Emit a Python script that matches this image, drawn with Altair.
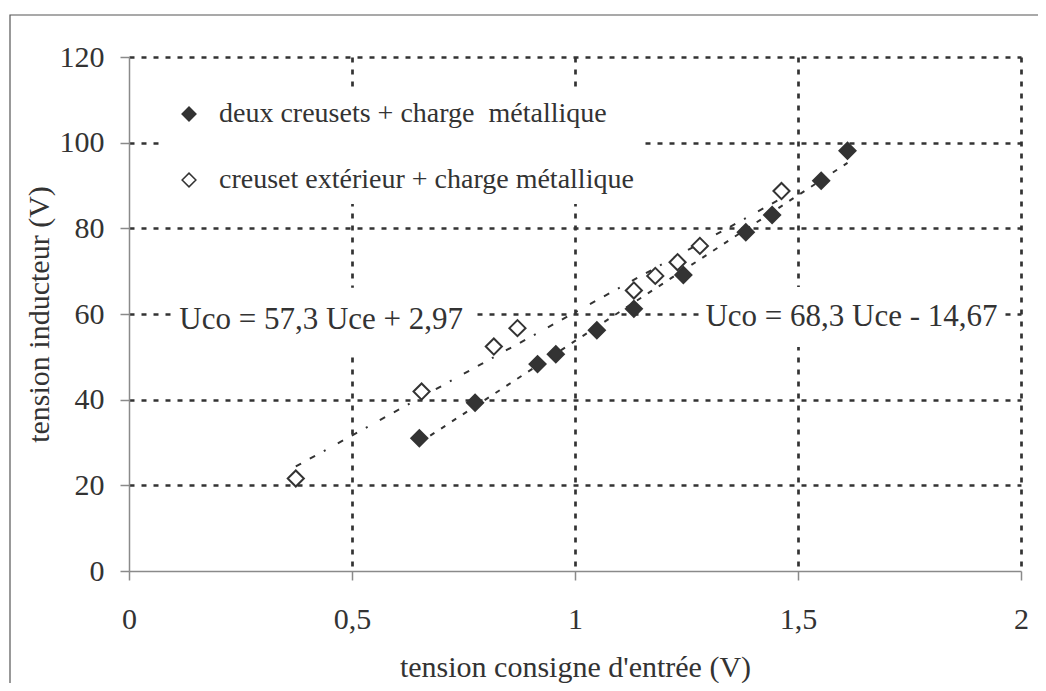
import altair as alt
import pandas as pd

SERIES = ["deux creusets + charge\u00a0 métallique", "creuset extérieur + charge métallique"]

# series 1: filled diamonds (deux creusets + charge métallique)
x_filled = [0.651, 0.776, 0.916, 0.957, 1.049, 1.132, 1.243, 1.383, 1.442, 1.552, 1.611]
y_filled = [31.0, 39.3, 48.3, 50.6, 56.2, 61.2, 69.1, 79.1, 83.1, 91.1, 98.1]

# series 2: open diamonds (creuset extérieur + charge métallique)
x_open = [0.374, 0.656, 0.818, 0.871, 1.132, 1.180, 1.230, 1.280, 1.463]
y_open = [21.6, 41.9, 52.4, 56.7, 65.5, 68.9, 72.1, 75.9, 88.7]

# trendline equation labels
eq_text = ["Uco = 57,3 Uce + 2,97", "Uco = 68,3 Uce - 14,67"]
eq_x = [0.431, 1.620]
eq_y = [58.6, 59.3]
box_x = [0.096, 1.280]
box_x2 = [0.774, 1.960]
box_y = [66.1, 66.3]
box_y2 = [51.1, 52.3]

x_ticks = [0, 0.5, 1, 1.5, 2]
y_ticks = [0, 20, 40, 60, 80, 100, 120]

df = pd.DataFrame({
    "x": x_filled + x_open,
    "y": y_filled + y_open,
    "series": [SERIES[0]] * len(x_filled) + [SERIES[1]] * len(x_open),
})
eq_df = pd.DataFrame({"text": eq_text, "x": eq_x, "y": eq_y,
                      "bx": box_x, "bx2": box_x2, "by": box_y, "by2": box_y2})

FONT = "Liberation Serif"
INK = "#333333"

xscale = alt.Scale(domain=[0, 2], nice=False, zero=False)
yscale = alt.Scale(domain=[0, 120], nice=False)
no_zero_grid = {"condition": {"test": "datum.value === 0", "value": 0}, "value": 1}

x_axis = alt.Axis(
    values=x_ticks, title="tension consigne d'entrée (V)",
    labelExpr="replace(format(datum.value, '~g'), '.', ',')",
    labelPadding=24, titlePadding=18, labelFlush=False, gridOpacity=no_zero_grid)
y_axis = alt.Axis(
    values=y_ticks, title="tension inducteur (V)", format="d",
    labelPadding=16, titlePadding=5, labelFlush=False, gridOpacity=no_zero_grid)


def X(field):
    return alt.X(field, scale=xscale, axis=x_axis)


def Y(field):
    return alt.Y(field, scale=yscale, axis=y_axis)


frame = alt.Chart(pd.DataFrame({"k": [0]})).mark_rect(
    fillOpacity=0, stroke="#555555", strokeWidth=1.2
).encode(x=alt.value(-119), x2=alt.value(960), y=alt.value(-42), y2=alt.value(720))

boxes = alt.Chart(eq_df).mark_rect(color="white").encode(
    x=X("bx:Q"), x2="bx2:Q", y=Y("by:Q"), y2="by2:Q")

reg_filled = alt.Chart(df).transform_filter(
    alt.datum.series == SERIES[0]
).transform_regression("x", "y").mark_line(
    color=INK, strokeWidth=2, strokeDash=[5, 8]
).encode(x=X("x:Q"), y=Y("y:Q"))

reg_open = alt.Chart(df).transform_filter(
    alt.datum.series == SERIES[1]
).transform_regression("x", "y").mark_line(
    color=INK, strokeWidth=2, strokeDash=[6, 10, 6, 10, 2, 14]
).encode(x=X("x:Q"), y=Y("y:Q"))

points = alt.Chart(df).mark_point(
    shape="diamond", filled=True, size=260, strokeWidth=2, opacity=1
).encode(
    x=X("x:Q"), y=Y("y:Q"),
    fill=alt.Fill("series:N", scale=alt.Scale(domain=SERIES, range=[INK, "#ffffff"]),
                  legend=alt.Legend(title=None)),
    stroke=alt.Stroke("series:N", scale=alt.Scale(domain=SERIES, range=[INK, INK]),
                      legend=alt.Legend(title=None)),
)

labels = alt.Chart(eq_df).mark_text(
    font=FONT, fontSize=31, color=INK, align="center", baseline="middle"
).encode(x=X("x:Q"), y=Y("y:Q"), text="text:N")

chart = alt.layer(frame, boxes, reg_filled, reg_open, points, labels).properties(
    width=892, height=514,
    autosize=alt.AutoSizeParams(type="none"),
    padding={"left": 121, "top": 49, "right": 17, "bottom": 112},
    background="white",
).configure_axis(
    labelFont=FONT, labelFontSize=30, labelColor=INK,
    titleFont=FONT, titleFontSize=30, titleColor=INK, titleFontWeight="normal",
    domainColor="#8a8a8a", domainWidth=1.5,
    tickColor="#8a8a8a", tickWidth=1.5, tickSize=9,
    gridColor=INK, gridWidth=2.7, gridDash=[5, 7],
).configure_legend(
    orient="none", legendX=36, legendY=33, fillColor="white", padding=10,
    rowPadding=38, labelOffset=16, labelFont=FONT, labelFontSize=28,
    labelColor=INK, symbolType="diamond", symbolSize=190, symbolStrokeWidth=1.5,
    labelLimit=0,
).configure_view(strokeWidth=0)

chart.save("out.html", embed_options={"renderer": "svg", "actions": False})
